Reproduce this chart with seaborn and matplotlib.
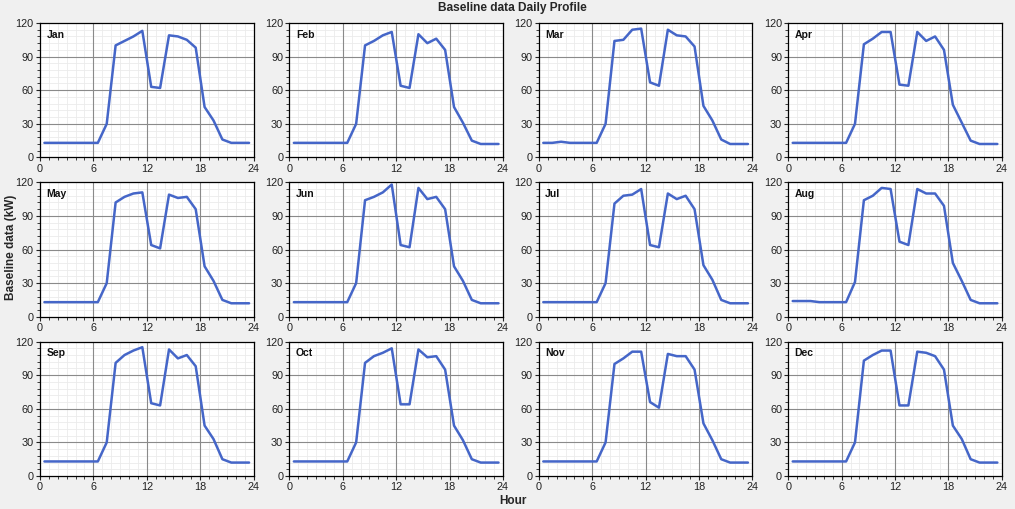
import numpy as np
import pandas as pd
import matplotlib
matplotlib.use("Agg")
import matplotlib.pyplot as plt
from matplotlib.ticker import MultipleLocator, FixedLocator
import seaborn as sns

hours = [h + 0.5 for h in range(24)]
months = ["Jan", "Feb", "Mar", "Apr", "May", "Jun", "Jul", "Aug", "Sep", "Oct", "Nov", "Dec"]

jan = [13, 13, 13, 13, 13, 13, 13, 30, 100, 104, 108, 113, 63, 62, 109, 108, 105, 98, 45, 33, 16, 13, 13, 13]
feb = [13, 13, 13, 13, 13, 13, 13, 30, 100, 104, 109, 112, 64, 62, 110, 102, 106, 96, 45, 31, 15, 12, 12, 12]
mar = [13, 13, 14, 13, 13, 13, 13, 30, 104, 105, 114, 115, 67, 64, 114, 109, 108, 99, 46, 33, 16, 12, 12, 12]
apr = [13, 13, 13, 13, 13, 13, 13, 30, 101, 106, 112, 112, 65, 64, 112, 104, 108, 96, 47, 31, 15, 12, 12, 12]
may = [13, 13, 13, 13, 13, 13, 13, 30, 102, 107, 110, 111, 64, 61, 109, 106, 107, 96, 45, 32, 15, 12, 12, 12]
jun = [13, 13, 13, 13, 13, 13, 13, 30, 104, 107, 111, 118, 64, 62, 115, 105, 107, 96, 45, 32, 15, 12, 12, 12]
jul = [13, 13, 13, 13, 13, 13, 13, 30, 101, 108, 109, 114, 64, 62, 110, 105, 108, 96, 46, 33, 15, 12, 12, 12]
aug = [14, 14, 14, 13, 13, 13, 13, 31, 104, 108, 115, 114, 67, 64, 114, 110, 110, 99, 48, 32, 15, 12, 12, 12]
sep = [13, 13, 13, 13, 13, 13, 13, 30, 101, 108, 112, 115, 65, 63, 113, 105, 108, 98, 45, 33, 15, 12, 12, 12]
oct_ = [13, 13, 13, 13, 13, 13, 13, 30, 101, 107, 110, 114, 64, 64, 113, 106, 107, 95, 45, 32, 15, 12, 12, 12]
nov = [13, 13, 13, 13, 13, 13, 13, 30, 100, 105, 111, 111, 66, 61, 109, 107, 107, 95, 47, 32, 15, 12, 12, 12]
dec = [13, 13, 13, 13, 13, 13, 13, 30, 103, 108, 112, 112, 63, 63, 111, 110, 107, 95, 45, 33, 15, 12, 12, 12]

series = [jan, feb, mar, apr, may, jun, jul, aug, sep, oct_, nov, dec]

rows = []
for m, vals in zip(months, series):
    for h, v in zip(hours, vals):
        rows.append({"Month": m, "Hour": h, "kW": v})
df = pd.DataFrame(rows)

sns.set_style("white")
plt.rcParams["font.family"] = ["Liberation Sans", "DejaVu Sans"]

fig, axes = plt.subplots(3, 4, figsize=(10.15, 5.09), dpi=100)
fig.patch.set_facecolor("#f0f0f0")
fig.subplots_adjust(left=0.0394, right=0.987, top=0.9548, bottom=0.0648,
                    wspace=0.168, hspace=0.185)

x_major = [6, 12, 18]
y_major = [30, 60, 90]
x_minor = [v for v in range(0, 25) if v % 6 != 0]
y_minor = [v for v in range(0, 121, 6) if v % 30 != 0]

line_color = "#4566c8"
for ax, m in zip(axes.flat, months):
    ax.set_facecolor("white")
    ax.set_xlim(0, 24)
    ax.set_ylim(0, 120)
    ax.xaxis.set_major_locator(MultipleLocator(6))
    ax.xaxis.set_minor_locator(FixedLocator(x_minor))
    ax.yaxis.set_major_locator(MultipleLocator(30))
    ax.yaxis.set_minor_locator(FixedLocator(y_minor))
    ax.grid(which="minor", color="#ebebeb", linewidth=0.6, zorder=0.2)
    ax.grid(which="major", visible=False)
    ax.set_axisbelow(True)
    for xv in x_major:
        ax.axvline(xv, color="#8a8a8a", linewidth=0.8, zorder=1)
    for yv in y_major:
        ax.axhline(yv, color="#8a8a8a", linewidth=0.8, zorder=1)
    sns.lineplot(data=df[df["Month"] == m], x="Hour", y="kW", ax=ax,
                 color=line_color, linewidth=1.8, zorder=5)
    ax.set_xlim(0, 24)
    ax.set_ylim(0, 120)
    ax.tick_params(axis="both", which="major", direction="out", length=3,
                   width=0.8, labelsize=7.8, pad=1.5, colors="#222222",
                   bottom=True, left=True)
    ax.tick_params(axis="both", which="minor", direction="out", length=2,
                   width=0.6, bottom=True, left=True, colors="#222222")
    for s in ax.spines.values():
        s.set_color("black")
        s.set_linewidth(0.9)
        s.set_visible(True)
    ax.set_xlabel("")
    ax.set_ylabel("")
    ax.text(0.03, 0.95, m, transform=ax.transAxes, ha="left", va="top",
            fontsize=7.5, fontweight="bold", color="#111111", zorder=6)

fig.suptitle("Baseline data Daily Profile", x=0.505, y=0.997, fontsize=8.6,
             fontweight="bold", va="top")
fig.text(0.5055, 0.004, "Hour", ha="center", va="bottom", fontsize=8.5,
         fontweight="bold")
fig.text(0.005, 0.515, "Baseline data (kW)", rotation=90, ha="left",
         va="center", fontsize=8.5, fontweight="bold")

fig.savefig("out.png", dpi=100, facecolor=fig.get_facecolor())
